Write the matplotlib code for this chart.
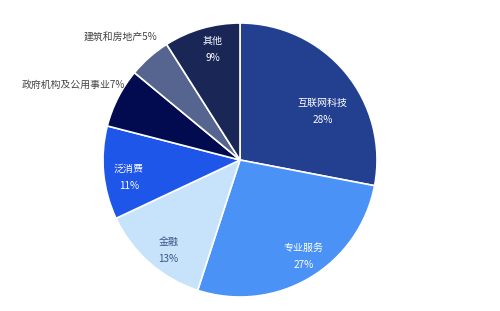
import numpy as np
import matplotlib
matplotlib.use("Agg")
import matplotlib.pyplot as plt

plt.rcParams['font.family'] = ['Noto Sans CJK SC', 'DejaVu Sans']

categories = ['互联网科技', '专业服务', '金融', '泛消费', '政府机构及公用事业', '建筑和房地产', '其他']
values = [28, 27, 13, 11, 7, 5, 9]
colors = ['#233F8F', '#4A92F6', '#C6E3FB', '#1F56EA', '#020B50', '#56658F', '#1A2656']
inside = [True, True, True, True, False, False, True]
label_colors = ['#FFFFFF', '#FFFFFF', '#3B5588', '#FFFFFF', '#444444', '#444444', '#FFFFFF']
# pixel offsets for labels (style)
offsets = [(-2, -21), (8, -2), (1, -8), (-2, -7), (7, 13), (8, 20), (3, 5)]

W, H, DPI = 500, 311, 100
fig = plt.figure(figsize=(W / DPI, H / DPI), dpi=DPI)
cx, cy, R = 240, 311 - 160, 137
ax = fig.add_axes([(cx - R) / W, (cy - R) / H, 2 * R / W, 2 * R / H])

wedges, _ = ax.pie(values, colors=colors, startangle=90, counterclock=False,
                   radius=1, wedgeprops=dict(edgecolor='white', linewidth=1.2))
ax.set_xlim(-1, 1)
ax.set_ylim(-1, 1)
ax.set_aspect('equal')
ax.axis('off')

total = sum(values)
cum = 0
for i, (cat, v) in enumerate(zip(categories, values)):
    mid = (cum + v / 2) / total * 360
    cum += v
    th = np.deg2rad(90 - mid)
    if inside[i]:
        xy = (0.8 * np.cos(th), 0.8 * np.sin(th))
        ax.annotate(f'{cat}\n{v}%', xy=xy, xytext=offsets[i], textcoords='offset pixels',
                    ha='center', va='center', fontsize=7.2, color=label_colors[i],
                    linespacing=1.85, annotation_clip=False)
    else:
        xy = (np.cos(th), np.sin(th))
        ax.annotate(f'{cat}{v}%', xy=xy, xytext=offsets[i], textcoords='offset pixels',
                    ha='right', va='center', fontsize=7.1, color=label_colors[i],
                    annotation_clip=False)

fig.savefig('out.png', dpi=DPI, facecolor='white')
